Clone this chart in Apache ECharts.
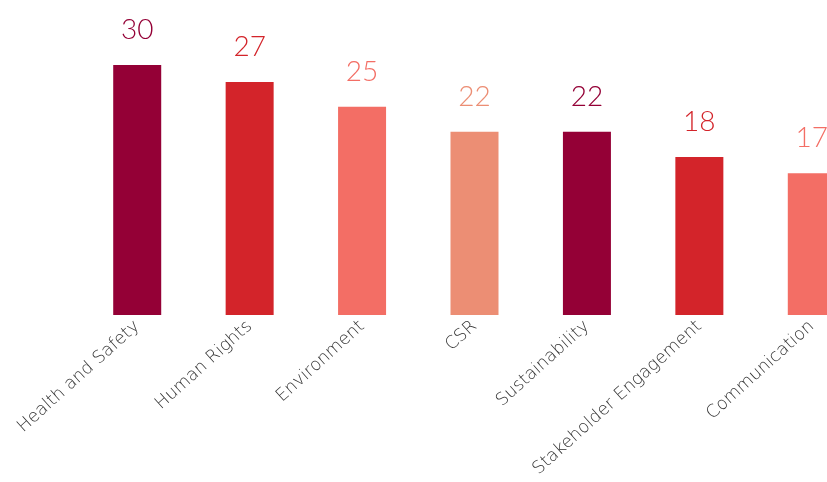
<!DOCTYPE html>
<html>
<head>
<meta charset="utf-8">
<script src="https://cdn.jsdelivr.net/npm/echarts@6/dist/echarts.min.js"></script>
<style>
  html, body { margin: 0; padding: 0; background: #fff; overflow: hidden; }
  /* the plot runs past the right edge of the window, as in the source */
  #chart { width: 868px; height: 482px; }
</style>
</head>
<body>
<div id="chart"></div>
<script>
// categories and values
var categories = ['Health and Safety', 'Human Rights', 'Environment', 'CSR',
  'Sustainability', 'Stakeholder Engagement', 'Communication'];
var values = [30, 27.96, 25, 22, 22, 18.96, 17];
var valueLabels = ['30', '27', '25', '22', '22', '18', '17'];
var colors = ['#940036', '#D3242A', '#F36E65', '#EC8E74'];

var myChart = echarts.init(document.getElementById('chart'));
var option = {
  animation: false,
  grid: { left: 81, top: 65, right: 0, bottom: 167, containLabel: false },
  xAxis: {
    type: 'category',
    data: categories,
    axisLine: { show: false },
    axisTick: { show: false },
    axisLabel: {
      interval: 0,
      rotate: 42,
      margin: 9,
      color: '#333',
      fontSize: 17.5,
      fontFamily: 'DejaVu Sans',
      fontWeight: 200
    }
  },
  yAxis: {
    type: 'value',
    min: 0,
    max: 30,
    show: false
  },
  series: [{
    type: 'bar',
    barWidth: 48,
    data: values.map(function (v, i) {
      var c = colors[i % colors.length];
      return {
        value: v,
        itemStyle: { color: c },
        label: { color: c }
      };
    }),
    label: {
      show: true,
      position: 'top',
      distance: 21,
      fontSize: 28,
      fontFamily: 'Lato',
      fontWeight: 300,
      formatter: function (p) { return valueLabels[p.dataIndex]; }
    }
  }]
};
myChart.setOption(option, true);
</script>
</body>
</html>
